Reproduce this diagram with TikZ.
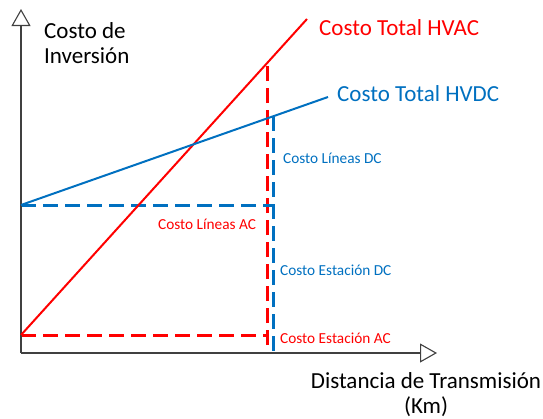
\documentclass[tikz,border=0pt]{standalone}
\usepackage{fontspec}
\setmainfont{Carlito}
\usetikzlibrary{arrows.meta}

\definecolor{acred}{HTML}{FF0000}
\definecolor{dcblue}{HTML}{0070C0}
\definecolor{axisgray}{HTML}{404040}

\tikzset{
  axis/.style={draw=axisgray,line width=1.1pt,-{Triangle[open,length=17pt,width=19pt,fill=white]}},
  acline/.style={-,draw=acred,line width=2pt},
  dcline/.style={-,draw=dcblue,line width=2pt},
  acdash/.style={-,draw=acred,line width=3pt,dash pattern=on 15pt off 7pt},
  dcdash/.style={-,draw=dcblue,line width=3pt,dash pattern=on 15pt off 7pt},
  biglabel/.style={font=\fontsize{23}{25}\selectfont,inner sep=0pt},
  smalllabel/.style={font=\fontsize{15.3}{18}\selectfont,inner sep=0pt,anchor=west},
}

\begin{document}
\begin{tikzpicture}[x=1pt,y=-1pt]
\useasboundingbox (0,0) rectangle (543,418);

% ejes
\coordinate (o) at (21,353);
\coordinate (ytip) at (21,9);
\coordinate (xtip) at (437,353);

% curvas de costo
\coordinate (acstart) at (21,335);
\coordinate (acend) at (307,19);
\coordinate (dcstart) at (21,205);
\coordinate (dcend) at (328,97);

% cortes en la distancia critica
\coordinate (actop) at (267,63);
\coordinate (acbottom) at (267,345);
\coordinate (accorner) at (267,335);
\coordinate (dctop) at (273,116);
\coordinate (dcbottom) at (273,353);
\coordinate (dccorner) at (273,205);

\path [acdash] (acstart) edge (accorner);
\path [acdash] (acbottom) edge (actop);
\path [dcdash] (dcstart) edge (dccorner);
\path [dcdash] (dctop) edge (dcbottom);

\draw [axis] (o) -- (ytip);
\draw [axis] (o) -- (xtip);

\path [acline] (acstart) edge (acend);
\path [dcline] (dcstart) edge (dcend);

\node[biglabel,anchor=base west,align=left,text=black] (yname) at (44,63) {Costo de\\Inversión};
\node[biglabel,anchor=base,align=center,text=black] (xname) at (426,413) {Distancia de Transmisión\\(Km)};
\node[biglabel,anchor=base west,text=acred] (hvac) at (319,35) {Costo Total HVAC};
\node[biglabel,anchor=base west,text=dcblue] (hvdc) at (337,101.5) {Costo Total HVDC};

\node[smalllabel,text=dcblue] (linesdc) at (283,158) {Costo Líneas DC};
\node[smalllabel,text=acred] (linesac) at (158,224) {Costo Líneas AC};
\node[smalllabel,text=dcblue] (stationdc) at (280,270) {Costo Estación DC};
\node[smalllabel,text=acred] (stationac) at (280,338) {Costo Estación AC};
\end{tikzpicture}
\end{document}
